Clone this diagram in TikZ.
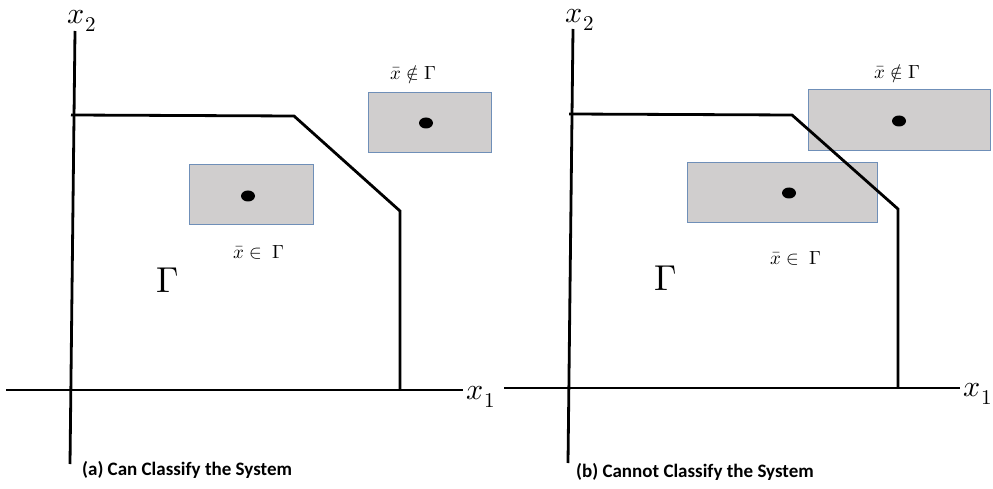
\documentclass[tikz,border=0pt]{standalone}
\usepackage{fontspec}
\usepackage{unicode-math}
\newfontfamily\capfont{Carlito}
\definecolor{boxfill}{HTML}{D0CECE}
\definecolor{boxline}{HTML}{6F8FB8}
\begin{document}
\begin{tikzpicture}[x=1pt,y=-1pt,
  axis/.style={line width=2.8pt, line cap=butt},
  region/.style={line width=2.8pt, line join=miter},
  ibox/.style={draw=boxline, fill=boxfill, line width=1pt},
  pt/.style={fill=black},
  axlab/.style={inner sep=0pt, font=\fontsize{30}{34}\selectfont},
  memlab/.style={inner sep=0pt, font=\fontsize{19}{22}\selectfont},
  gamlab/.style={inner sep=0pt, font=\fontsize{36}{40}\selectfont},
  caption/.style={inner sep=0pt, anchor=west, font=\capfont\bfseries\fontsize{19}{22}\selectfont}]
\useasboundingbox (0,0) rectangle (993,489);
% ---------- panel (a)
\coordinate (axL) at (6,390);
\coordinate (axR) at (463,390);
\coordinate (ayT) at (75,31);
\coordinate (ayB) at (70,464);
\draw[axis] (axL) -- (axR);
\draw[axis] (ayT) -- (ayB);
\coordinate (pa1) at (71,115);
\coordinate (pa2) at (294,116);
\coordinate (pa3) at (400,211);
\coordinate (pa4) at (400,390);
\draw[region] (pa1) -- (pa2) -- (pa3) -- (pa4);
\node[axlab] (x2a) at (82,21) {$x_2$};
\node[axlab] (x1a) at (481,397) {$x_1$};
\draw[ibox] (189,165) rectangle (313,225);
\coordinate (da) at (248,196);
\fill[pt] (da) ellipse (7pt and 5.5pt);
\draw[ibox] (368,93) rectangle (491,153);
\coordinate (db) at (426,123);
\fill[pt] (db) ellipse (7pt and 5.5pt);
\node[memlab] (ina) at (259,252) {$\bar{x}\in\ \Gamma$};
\node[memlab] (outa) at (413,75) {$\bar{x}\notin\Gamma$};
\node[gamlab] (ga) at (168,280) {$\Gamma$};
\node[caption] (capa) at (82,470) {(a) Can Classify the System};
% ---------- panel (b)
\coordinate (bxL) at (504,388);
\coordinate (bxR) at (960,388);
\coordinate (byT) at (573,29);
\coordinate (byB) at (568,463);
\draw[axis] (bxL) -- (bxR);
\draw[axis] (byT) -- (byB);
\coordinate (pb1) at (569,114);
\coordinate (pb2) at (792,115);
\coordinate (pb3) at (898,209);
\coordinate (pb4) at (898,388);
\draw[ibox] (687,163) rectangle (877,223);
\draw[ibox] (808,90) rectangle (990,151);
\draw[region] (pb1) -- (pb2) -- (pb3) -- (pb4);
\coordinate (dc) at (789,193);
\fill[pt] (dc) ellipse (7pt and 5.5pt);
\coordinate (dd) at (899,121);
\fill[pt] (dd) ellipse (7pt and 5.5pt);
\node[axlab] (x2b) at (580,20) {$x_2$};
\node[axlab] (x1b) at (978,394) {$x_1$};
\node[memlab] (inb) at (796,258) {$\bar{x}\in\ \Gamma$};
\node[memlab] (outb) at (897,74) {$\bar{x}\notin\Gamma$};
\node[gamlab] (gb) at (666,278) {$\Gamma$};
\node[caption] (capb) at (576,472) {(b) Cannot Classify the System};
\end{tikzpicture}
\end{document}
